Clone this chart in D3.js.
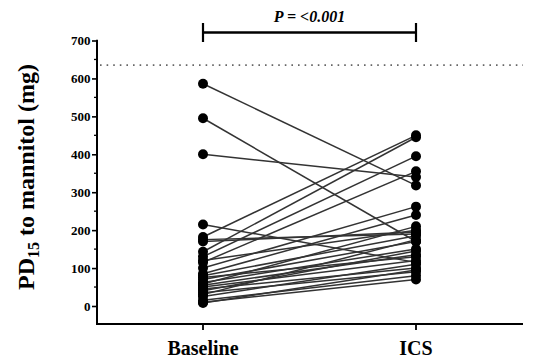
<!DOCTYPE html>
<html><head><meta charset="utf-8">
<script src="https://cdn.jsdelivr.net/npm/d3@7"></script>
<style>body{margin:0;background:#fff}svg{display:block}</style>
</head><body><svg id="c" width="536" height="360"></svg>
<script>
const categories = ["Baseline", "ICS"];
const baseline = [586, 495, 400, 215, 182, 175, 170, 143, 130, 120, 115, 100, 85, 80, 75, 70, 62, 58, 55, 50, 45, 40, 35, 30, 25, 15, 10, 8];
const ics      = [318, 170, 340, 115, 450, 190, 195, 445, 395, 200, 355, 262, 240, 185, 130, 170, 150, 210, 135, 120, 100, 145, 90, 175, 110, 80, 70, 95];
const yTicks = [0, 100, 200, 300, 400, 500, 600, 700];
const referenceLine = 635;
const pLabel = "P = <0.001";

const svg = d3.select("#c");
const serif = "'Liberation Serif','DejaVu Serif',serif";
const y = d3.scaleLinear().domain([0, 700]).range([306, 40.5]);
const x = d3.scalePoint().domain(categories).range([203, 416]);

// y axis
const yAxis = d3.axisLeft(y).tickValues(yTicks).tickSize(5).tickPadding(1.5);
const gy = svg.append("g").attr("transform", "translate(97,0)").call(yAxis);
gy.select(".domain").remove();
gy.selectAll(".tick line").attr("stroke", "#000").attr("stroke-width", 1.6);
gy.selectAll(".tick text").attr("font-family", serif).attr("font-weight", "bold").attr("font-size", 13).attr("fill", "#000");
// minor ticks
svg.append("g").selectAll("line").data(d3.range(50, 700, 100)).join("line")
  .attr("x1", 94).attr("x2", 97).attr("y1", d => y(d)).attr("y2", d => y(d))
  .attr("stroke", "#000").attr("stroke-width", 1.3);
svg.append("line").attr("x1", 97).attr("x2", 97).attr("y1", y(700) - 0.8).attr("y2", 325)
  .attr("stroke", "#000").attr("stroke-width", 2);

// x axis
svg.append("line").attr("x1", 96).attr("x2", 523).attr("y1", 324).attr("y2", 324)
  .attr("stroke", "#000").attr("stroke-width", 2);
svg.append("g").selectAll("line").data(categories).join("line")
  .attr("x1", d => x(d)).attr("x2", d => x(d)).attr("y1", 324).attr("y2", 330)
  .attr("stroke", "#000").attr("stroke-width", 1.8);
svg.append("g").selectAll("text").data(categories).join("text")
  .attr("x", d => x(d)).attr("y", 355).attr("text-anchor", "middle")
  .attr("font-family", serif).attr("font-weight", "bold").attr("font-size", 20).text(d => d);

// y label
const yl = svg.append("text").attr("transform", "translate(34,177) rotate(-90)")
  .attr("text-anchor", "middle").attr("font-family", serif).attr("font-weight", "bold").attr("font-size", 24);
yl.append("tspan").text("PD");
yl.append("tspan").attr("font-size", 16).attr("dy", 5).text("15");
yl.append("tspan").attr("dy", -5).text(" to mannitol (mg)");

// reference dotted line
svg.append("line").attr("x1", 100).attr("x2", 523).attr("y1", y(referenceLine)).attr("y2", y(referenceLine))
  .attr("stroke", "#666").attr("stroke-width", 1.6).attr("stroke-dasharray", "1.6,5");

// pair lines
const pairs = baseline.map((b, i) => [b, ics[i]]);
svg.append("g").selectAll("line").data(pairs).join("line")
  .attr("x1", x("Baseline")).attr("x2", x("ICS"))
  .attr("y1", d => y(d[0])).attr("y2", d => y(d[1]))
  .attr("stroke", "#333").attr("stroke-width", 1.5);
// points
svg.append("g").selectAll("circle").data(baseline).join("circle")
  .attr("cx", x("Baseline")).attr("cy", d => y(d)).attr("r", 5).attr("fill", "#000");
svg.append("g").selectAll("circle").data(ics).join("circle")
  .attr("cx", x("ICS")).attr("cy", d => y(d)).attr("r", 5).attr("fill", "#000");

// significance bracket
const bY = 32.5;
svg.append("line").attr("x1", x("Baseline")).attr("x2", x("ICS")).attr("y1", bY).attr("y2", bY)
  .attr("stroke", "#000").attr("stroke-width", 2.5);
svg.append("g").selectAll("line").data(categories).join("line")
  .attr("x1", d => x(d)).attr("x2", d => x(d)).attr("y1", 23).attr("y2", 42)
  .attr("stroke", "#000").attr("stroke-width", 2.2);
svg.append("text").attr("x", (x("Baseline") + x("ICS")) / 2).attr("y", 22).attr("text-anchor", "middle")
  .attr("font-family", serif).attr("font-weight", "bold").attr("font-style", "italic").attr("font-size", 16)
  .text(pLabel);
</script></body></html>
